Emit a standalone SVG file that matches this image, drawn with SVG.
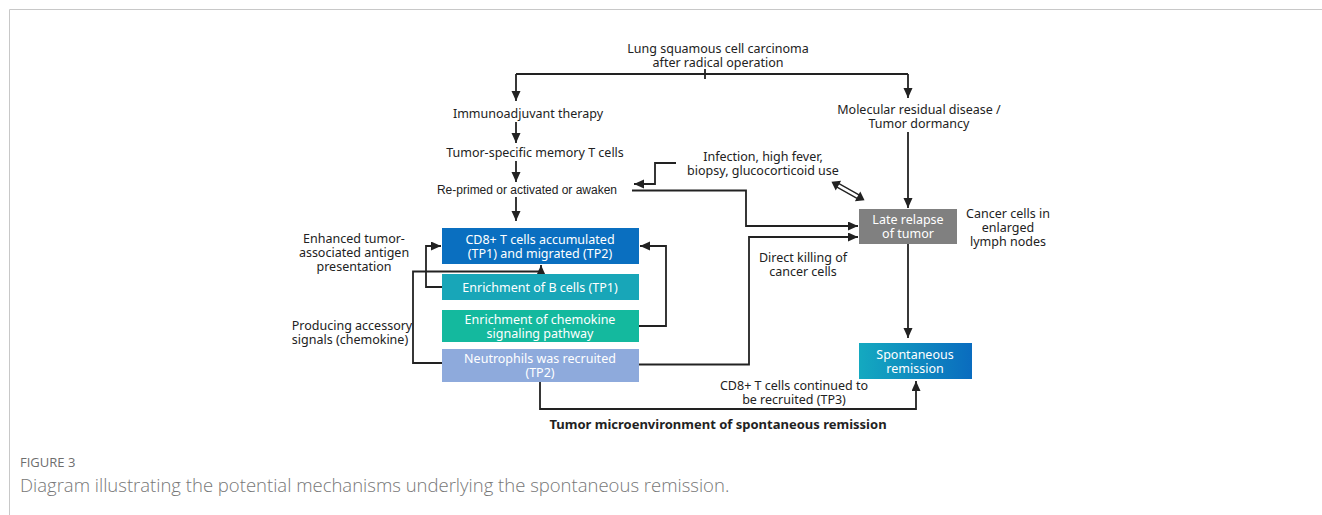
<svg xmlns="http://www.w3.org/2000/svg" width="1322" height="515" viewBox="0 0 1322 515">
<defs>
<style>
.t{font-family:"Noto Sans","Open Sans",sans-serif;font-size:12.5px;fill:#222;text-anchor:middle;dominant-baseline:central}
.a{font-family:"Liberation Sans",Arial,sans-serif;font-size:12px;fill:#222;text-anchor:middle;dominant-baseline:central}
.w{font-family:"Noto Sans","Open Sans",sans-serif;font-size:12.5px;fill:#fff;text-anchor:middle;dominant-baseline:central}
.b{font-family:"Noto Sans","Open Sans",sans-serif;font-size:13px;font-weight:bold;fill:#222;text-anchor:middle;dominant-baseline:central}
.c{fill:none;stroke:#222;stroke-width:1.8}
.cap1{font-family:"Open Sans","Noto Sans",sans-serif;font-size:13px;fill:#6e6e6e}
.cap2{font-family:"Open Sans","Noto Sans",sans-serif;font-size:18.5px;font-weight:300;fill:#777}
</style>
<marker id="ah" markerUnits="userSpaceOnUse" markerWidth="11" markerHeight="10" refX="10" refY="4.5" orient="auto">
<path d="M0,0 L10,4.5 L0,9 z" fill="#222"/>
</marker>
<linearGradient id="sg" x1="0" y1="0" x2="1" y2="0">
<stop offset="0" stop-color="#14a9c0"/>
<stop offset="1" stop-color="#0a6cbf"/>
</linearGradient>
</defs>
<rect width="1322" height="515" fill="#fff"/>
<path d="M9.5,515 V9.5 H1322" fill="none" stroke="#c8c8c8" stroke-width="1"/>

<g id="connectors">
<path class="c" d="M516,74 H908"/>
<path class="c" d="M705,69 V79"/>
<path class="c" d="M516,74 V101" marker-end="url(#ah)"/>
<path class="c" d="M908,74 V98" marker-end="url(#ah)"/>
<path class="c" d="M516,122 V143" marker-end="url(#ah)"/>
<path class="c" d="M516,161 V182" marker-end="url(#ah)"/>
<path class="c" d="M516,197 V221" marker-end="url(#ah)"/>
<path class="c" d="M676,163 H655 V184 H634" marker-end="url(#ah)"/>
<path class="c" d="M632,190.5 H746 V226 H858" marker-end="url(#ah)"/>
<path class="c" d="M639,364.5 H749 V237 H858" marker-end="url(#ah)"/>
<path class="c" d="M908,132 V208" marker-end="url(#ah)"/>
<path class="c" d="M908,244 V338" marker-end="url(#ah)"/>
<path class="c" d="M639,326 H666 V246 H640" marker-end="url(#ah)"/>
<path class="c" d="M442,287 H426 V246 H441" marker-end="url(#ah)"/>
<path class="c" d="M442,363 H413 V271.5 H541 V265" marker-end="url(#ah)"/>
<path class="c" d="M540,382 V409 H916 V381" marker-end="url(#ah)"/>
<g transform="translate(848,191) rotate(29.4)">
<path d="M-12,-2 H12 M-12,2 H12" stroke="#222" stroke-width="1.3" fill="none"/>
<path d="M-19,0 L-11,-5.5 L-11,5.5 z M19,0 L11,-5.5 L11,5.5 z" fill="#222"/>
</g>
</g>

<g id="n-lung"><text class="t" x="718" y="48">Lung squamous cell carcinoma</text><text class="t" x="718" y="62">after radical operation</text></g>
<g id="n-immuno"><text class="t" x="528" y="113">Immunoadjuvant therapy</text></g>
<g id="n-memory"><text class="t" x="535" y="152">Tumor-specific memory T cells</text></g>
<g id="n-reprimed"><text class="a" x="527" y="190">Re-primed or activated or awaken</text></g>
<g id="n-infection"><text class="t" x="763" y="156">Infection, high fever,</text><text class="t" x="763" y="170">biopsy, glucocorticoid use</text></g>
<g id="n-mrd"><text class="t" x="919" y="109">Molecular residual disease /</text><text class="t" x="919" y="123">Tumor dormancy</text></g>
<g id="n-lymph"><text class="t" x="1008" y="213">Cancer cells in</text><text class="t" x="1008" y="227">enlarged</text><text class="t" x="1008" y="241">lymph nodes</text></g>
<g id="n-killing"><text class="t" x="803" y="257">Direct killing of</text><text class="t" x="803" y="271">cancer cells</text></g>
<g id="n-antigen"><text class="t" x="354" y="238">Enhanced tumor-</text><text class="t" x="354" y="252">associated antigen</text><text class="t" x="354" y="266">presentation</text></g>
<g id="n-accessory"><text class="t" x="352" y="325">Producing accessory</text><text class="t" x="350" y="339">signals (chemokine)</text></g>
<g id="n-cd8cont"><text class="t" x="794" y="385">CD8+ T cells continued to</text><text class="t" x="794" y="399">be recruited (TP3)</text></g>

<g id="n-cd8"><rect x="442" y="228" width="197" height="36" fill="#0a6fc0"/><text class="w" x="540" y="239">CD8+ T cells accumulated</text><text class="w" x="540" y="253">(TP1) and migrated (TP2)</text></g>
<g id="n-bcells"><rect x="442" y="274" width="197" height="26" fill="#18a6b8"/><text class="w" x="540" y="287">Enrichment of B cells (TP1)</text></g>
<g id="n-chemokine"><rect x="442" y="310" width="197" height="32" fill="#14b99e"/><text class="w" x="540" y="319">Enrichment of chemokine</text><text class="w" x="540" y="333">signaling pathway</text></g>
<g id="n-neutro"><rect x="442" y="349" width="197" height="33" fill="#8eaadc"/><text class="w" x="540" y="358.5">Neutrophils was recruited</text><text class="w" x="540" y="372.5">(TP2)</text></g>
<g id="n-relapse"><rect x="859" y="209" width="98" height="35" fill="#808080"/><text class="w" x="908" y="219.5">Late relapse</text><text class="w" x="908" y="233.5">of tumor</text></g>
<g id="n-remission"><rect x="859" y="343" width="113" height="36" fill="url(#sg)"/><text class="w" x="915" y="354">Spontaneous</text><text class="w" x="915" y="368">remission</text></g>

<g id="n-title"><text class="b" x="718" y="424">Tumor microenvironment of spontaneous remission</text></g>
<g id="caption"><text class="cap1" x="20" y="467">FIGURE 3</text><text class="cap2" x="20" y="492">Diagram illustrating the potential mechanisms underlying the spontaneous remission.</text></g>
</svg>
